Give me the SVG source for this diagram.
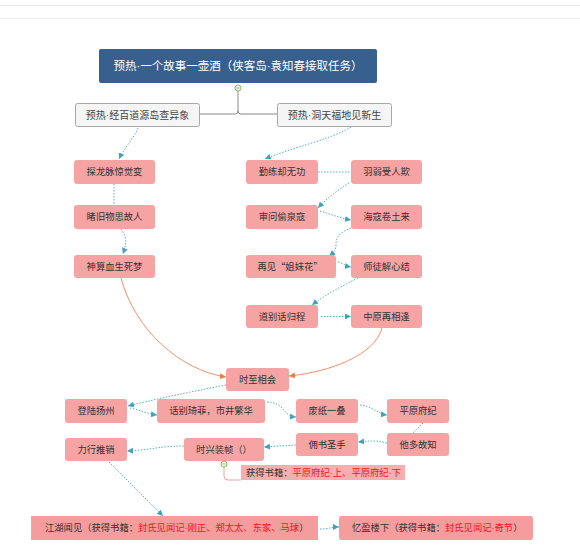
<svg xmlns="http://www.w3.org/2000/svg" width="580" height="557" viewBox="0 0 580 557">
<defs>
<style>
text{font-family:"Liberation Sans","Noto Sans CJK SC",sans-serif;}
.cjk{font-family:"Noto Sans CJK SC",sans-serif;}
.pk{fill:#F6A3A3;}
.t{font-size:9.3px;fill:#333;text-anchor:middle;}
.tl{font-size:9.3px;fill:#333;}
.red{fill:#F0141E;}
.l1{fill:#F5F5F5;stroke:#A8A8A8;stroke-width:1;}
.l1t{font-size:10px;fill:#444;text-anchor:middle;}
.dot{fill:none;stroke:#56B0C7;stroke-width:1;stroke-dasharray:1.5 1.5;}
.dota{fill:none;stroke:#56B0C7;stroke-width:1;stroke-dasharray:1.5 1.5;marker-end:url(#ab);}
.org{fill:none;stroke:#F0906A;stroke-width:1;marker-end:url(#ao);}
</style>
<marker id="ab" markerUnits="userSpaceOnUse" markerWidth="6" markerHeight="6" refX="6" refY="3" orient="auto"><path d="M0,0 L6,3 L0,6 z" fill="#3FA3BD"/></marker>
<marker id="ao" markerUnits="userSpaceOnUse" markerWidth="6" markerHeight="6" refX="6" refY="3" orient="auto"><path d="M0,0 L6,3 L0,6 z" fill="#F07A45"/></marker>
</defs>
<rect x="0" y="0" width="580" height="557" fill="#FFFFFF"/>
<line x1="0" y1="5.5" x2="580" y2="5.5" stroke="#E6E6E6" stroke-width="1"/>
<line x1="0" y1="18.5" x2="580" y2="18.5" stroke="#F0F0F0" stroke-width="1"/>

<g id="connectors">
<path d="M200,114 H235 Q238,114 238,111 V91 M238,111 Q238,114 241,114 H277" fill="none" stroke="#8A8A8A" stroke-width="1"/>
<path class="dota" d="M138,128 C133,140 124,148 119,159"/>
<path class="dot" d="M114,184 V205"/>
<path class="dota" d="M121,229 C128,238 126,245 123,254"/>
<path class="dota" d="M351,127 C330,140 290,148 265,159"/>
<path class="dot" d="M318,172 H351"/>
<path class="dota" d="M349,183 C335,192 325,200 318,208"/>
<path class="dota" d="M320,211 C330,214 340,218 351,220"/>
<path class="dota" d="M351,228 C338,233 336,238 336,245 C336,250 333,253 329,256"/>
<path class="dota" d="M338,262 C343,263 345,266 351,267"/>
<path class="dota" d="M358,278 C340,287 325,295 312,305"/>
<path class="dota" d="M321,316.5 H351"/>
<path class="org" d="M121,278 C135,330 180,370 226,377"/>
<path class="org" d="M382,328 C375,355 330,372 289,376"/>
<path class="dota" d="M226,385 C190,392 160,398 128,406"/>
<path class="dota" d="M130,408 C140,410 148,414 157,415"/>
<path class="dota" d="M267,402 C285,402 282,416 296,417"/>
<path class="dota" d="M360,405 C372,406 378,414 387,415"/>
<path class="dot" d="M423,423 L413,433"/>
<path class="dota" d="M387,443 C375,440 368,441 358,442"/>
<path class="dota" d="M296,445 L264,447"/>
<path class="dota" d="M184,446 C160,446 150,450 127,451"/>
<path class="dota" d="M109,462 L163,516"/>
<path class="dota" d="M320,529 C328,529 332,527 339,527"/>
<path d="M224,467 V476 Q224,480 228,480 H241" fill="none" stroke="#F2A0A0" stroke-width="1"/>
</g>

<g id="root">
<rect x="99" y="49" width="278" height="34" rx="2" fill="#38608F"/>
<text x="238" y="70" font-size="11.5" fill="#FFFFFF" text-anchor="middle">预热·一个故事一壶酒（侠客岛·袁知春接取任务）</text>
<circle cx="238" cy="88" r="3" fill="#FFFFFF" stroke="#7DBE5A" stroke-width="1"/>
<line x1="236.3" y1="88" x2="239.7" y2="88" stroke="#7DBE5A" stroke-width="1"/>
</g>
<g id="n_left1"><rect class="l1" x="75.5" y="103.5" width="124" height="23" rx="2"/><text class="l1t" x="137.5" y="118.5">预热·经百道源岛查异象</text></g>
<g id="n_right1"><rect class="l1" x="277.5" y="103.5" width="114" height="23" rx="2"/><text class="l1t" x="334.5" y="118.5">预热·洞天福地见新生</text></g>

<g id="n1"><rect class="pk" x="74" y="160" width="81" height="24" rx="3"/><text class="t" x="114.5" y="175.3">探龙脉惊觉变</text></g>
<g id="n2"><rect class="pk" x="74" y="205" width="81" height="24" rx="3"/><text class="t" x="114.5" y="220.3">睹旧物思故人</text></g>
<g id="n3"><rect class="pk" x="74" y="255" width="81" height="23" rx="3"/><text class="t" x="114.5" y="269.8">神算血生死梦</text></g>

<g id="n4"><rect class="pk" x="246" y="160" width="72" height="24" rx="3"/><text class="t" x="282" y="175.3">勤练却无功</text></g>
<g id="n5"><rect class="pk" x="351" y="160" width="71" height="24" rx="3"/><text class="t" x="386.5" y="175.3">羽弱受人欺</text></g>
<g id="n6"><rect class="pk" x="246" y="205" width="72" height="24" rx="3"/><text class="t" x="282" y="220.3">审问偷泉寇</text></g>
<g id="n7"><rect class="pk" x="351" y="205" width="71" height="24" rx="3"/><text class="t" x="386.5" y="220.3">海寇卷土来</text></g>
<g id="n8"><rect class="pk" x="246" y="255" width="90" height="23" rx="3"/><text class="t cjk" x="290" y="269.8">再见“姐妹花”</text></g>
<g id="n9"><rect class="pk" x="351" y="255" width="71" height="23" rx="3"/><text class="t" x="386.5" y="269.8">师徒解心结</text></g>
<g id="n10"><rect class="pk" x="246" y="305" width="72" height="23" rx="3"/><text class="t" x="282" y="319.8">道别话归程</text></g>
<g id="n11"><rect class="pk" x="351" y="305" width="71" height="23" rx="3"/><text class="t" x="386.5" y="319.8">中原再相逢</text></g>

<g id="n12"><rect class="pk" x="226" y="368" width="63" height="23" rx="3"/><text class="t" x="257.5" y="382.8">时至相会</text></g>
<g id="n13"><rect class="pk" x="65" y="399" width="62" height="24" rx="3"/><text class="t" x="96" y="414.3">登陆扬州</text></g>
<g id="n14"><rect class="pk" x="157" y="399" width="108" height="24" rx="3"/><text class="t" x="211" y="414.3">话别琦菲，市井繁华</text></g>
<g id="n15"><rect class="pk" x="296" y="399" width="62" height="24" rx="3"/><text class="t" x="327" y="414.3">废纸一叠</text></g>
<g id="n16"><rect class="pk" x="387" y="399" width="62" height="24" rx="3"/><text class="t" x="418" y="414.3">平原府纪</text></g>
<g id="n17"><rect class="pk" x="387" y="433" width="62" height="23" rx="3"/><text class="t" x="418" y="447.8">他多故知</text></g>
<g id="n18"><rect class="pk" x="296" y="433" width="62" height="23" rx="3"/><text class="t" x="327" y="447.8">佣书圣手</text></g>
<g id="n19"><rect class="pk" x="184" y="438" width="80" height="23" rx="3"/><text class="t" x="224" y="452.8">时兴装帧（）</text>
<circle cx="224" cy="464" r="3" fill="#FFFFFF" stroke="#7DBE5A" stroke-width="1"/>
<line x1="222.3" y1="464" x2="225.7" y2="464" stroke="#7DBE5A" stroke-width="1"/></g>
<g id="n19note"><rect x="241" y="465" width="164" height="15" fill="#F8AEAE"/><text class="tl" x="246" y="476">获得书籍：<tspan class="red">平原府纪·上、平原府纪·下</tspan></text></g>
<g id="n20"><rect class="pk" x="65" y="438" width="62" height="23" rx="3"/><text class="t" x="96" y="452.8">力行推销</text></g>

<g id="n21"><rect x="31" y="516" width="287" height="24" fill="#F59D9D"/><text class="tl" x="45" y="531.3">江湖闻见（获得书籍：<tspan class="red">封氏见闻记·刚正、郑太太、东家、马球</tspan>）</text></g>
<g id="n22"><rect x="339" y="516" width="194" height="24" rx="3" fill="#F59D9D"/><text class="tl" x="352" y="531.3">忆盈楼下（获得书籍：<tspan class="red">封氏见闻记·奇节</tspan>）</text></g>
</svg>
